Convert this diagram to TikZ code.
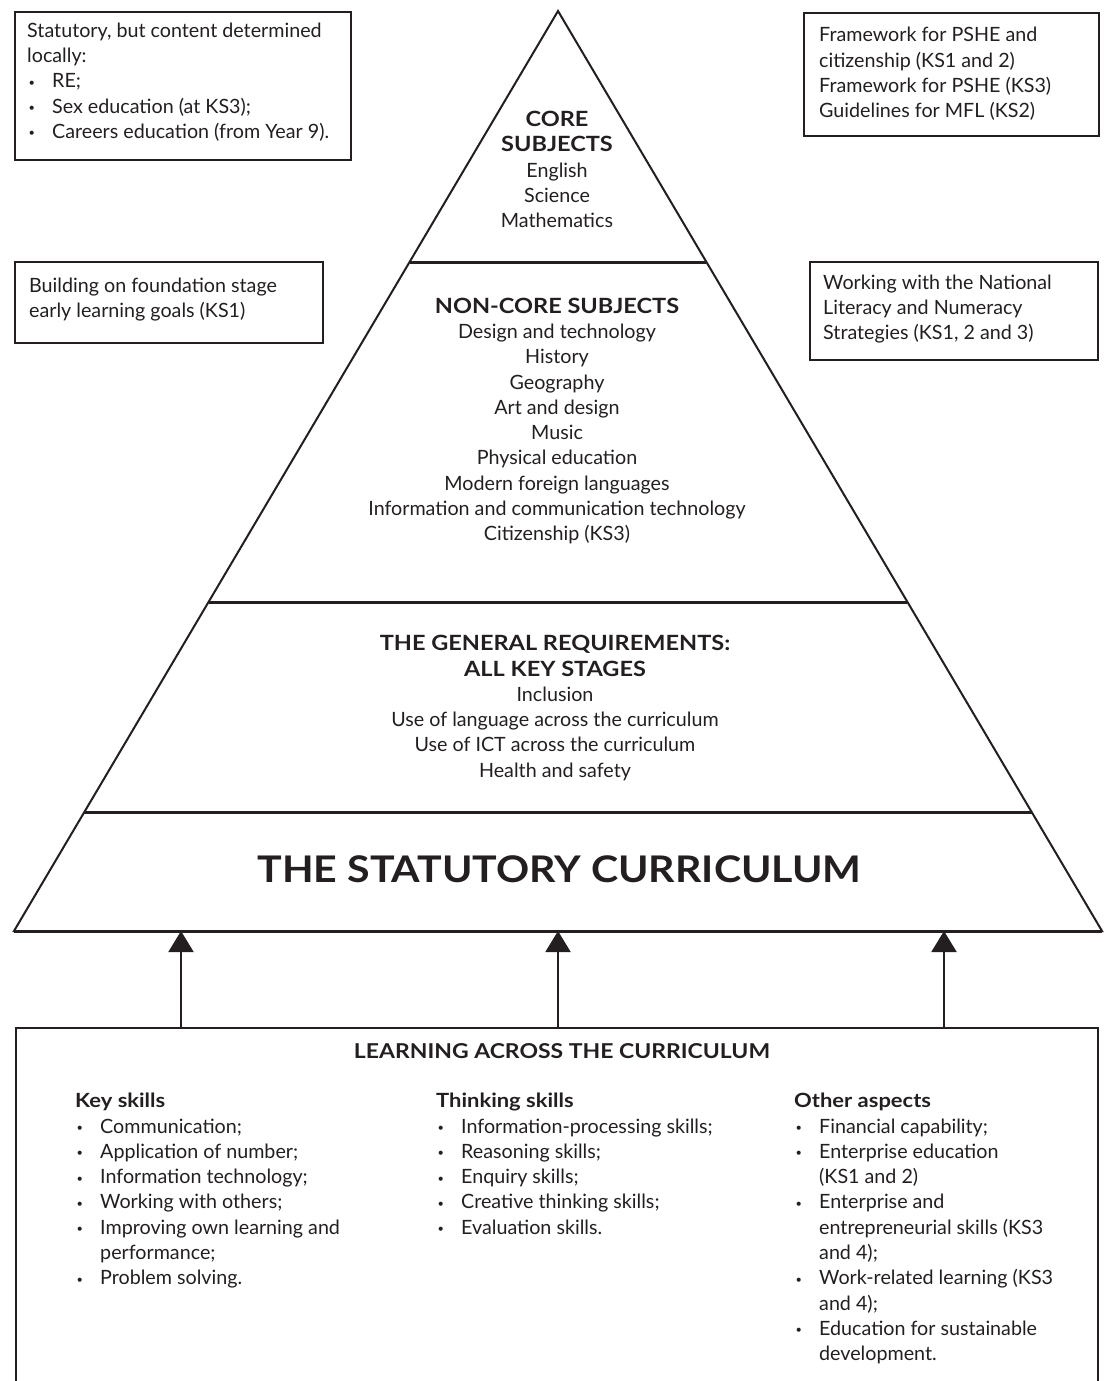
\documentclass[tikz,border=0pt]{standalone}
\usepackage{fontspec}
\setmainfont{Lato}
\newfontfamily\widefont[FakeStretch=1.12]{Lato}
\usetikzlibrary{arrows.meta,calc}
\definecolor{ink}{HTML}{231F20}
\newcommand{\bul}{\makebox[25pt][l]{\hspace{1.5pt}\raisebox{1.6pt}{\fontsize{11}{11}\selectfont\textbullet}}}
\newcommand{\ind}{\hspace*{25pt}}
\newcommand{\hf}[1]{{\widefont\bfseries\fontsize{21}{25.3}\selectfont #1}}
\newcommand{\cf}[1]{{\widefont\bfseries\fontsize{19.6}{25.3}\selectfont #1}}
\begin{document}
\begin{tikzpicture}[x=1pt,y=-1pt,
  txt/.style={inner sep=0pt, text=ink, font=\fontsize{19.7}{25.3}\selectfont},
  sidebox/.style={draw=ink, line width=2.4pt, inner sep=0pt, anchor=north west},
  pyr/.style={draw=ink, line width=2pt, line join=miter},
  divline/.style={draw=ink, line width=3pt},
  arr/.style={draw=ink, line width=2pt, -{Triangle[width=25pt,length=21pt]}}]
\useasboundingbox (0,0) rectangle (1105,1381);

% side boxes
\node[sidebox, minimum width=336, minimum height=148] (b1) at (14,11) {};
\node[txt, anchor=west, align=left] (t1) at (27,82) {Statutory, but content determined\\locally:\\\bul RE;\\\bul Sex education (at KS3);\\\bul Careers education (from Year 9).};

\node[sidebox, minimum width=308, minimum height=81] (b2) at (14,261) {};
\node[txt, anchor=west, align=left] (t2) at (29,299.5) {Building on foundation stage\\early learning goals (KS1)};

\node[sidebox, minimum width=295, minimum height=123] (b3) at (803,12) {};
\node[txt, anchor=west, align=left] (t3) at (819,74) {Framework for PSHE and\\citizenship (KS1 and 2)\\Framework for PSHE (KS3)\\Guidelines for MFL (KS2)};

\node[sidebox, minimum width=288, minimum height=98] (b4) at (809,261) {};
\node[txt, anchor=west, align=left] (t4) at (823,309) {Working with the National\\Literacy and Numeracy\\Strategies (KS1, 2 and 3)};

% pyramid
\coordinate (A) at (558,11);
\coordinate (BL) at (14,931);
\coordinate (BR) at (1102,931);
\draw[pyr] (A) -- (BR) -- (BL) -- cycle;
\draw[divline] ($(A)!0.27283!(BL)$) -- ($(A)!0.27283!(BR)$);
\draw[divline] ($(A)!0.64239!(BL)$) -- ($(A)!0.64239!(BR)$);
\draw[divline] ($(A)!0.87065!(BL)$) -- ($(A)!0.87065!(BR)$);
\draw[divline] (BL) -- (BR);

\node[txt, align=center, anchor=center] (core) at (557,169.5) {\hf{CORE}\\\hf{SUBJECTS}\\English\\Science\\Mathematics};
\node[txt, align=center, anchor=center] (noncore) at (557,421) {\hf{NON-CORE SUBJECTS}\\Design and technology\\History\\Geography\\Art and design\\Music\\Physical education\\Modern foreign languages\\Information and communication technology\\Citizenship (KS3)};
\node[txt, align=center, anchor=center] (gen) at (555,708) {\hf{THE GENERAL REQUIREMENTS:}\\\hf{ALL KEY STAGES}\\Inclusion\\Use of language across the curriculum\\Use of ICT across the curriculum\\Health and safety};
\node[inner sep=0pt, text=ink, font=\widefont\fontsize{36.7}{40}\selectfont\bfseries] (stat) at (559.5,869.5) {THE STATUTORY CURRICULUM};

% bottom box
\node[draw=ink, line width=2.4pt, inner sep=0pt, anchor=north west, minimum width=1082, minimum height=400] (lac) at (15,1027) {};
\node[inner sep=0pt, text=ink, font=\widefont\fontsize{20.5}{25.3}\selectfont\bfseries] (lact) at (562,1051.5) {LEARNING ACROSS THE CURRICULUM};

\node[txt, anchor=north west, align=left] (c1) at (75,1093) {\cf{Key skills}\\\bul Communication;\\\bul Application of number;\\\bul Information technology;\\\bul Working with others;\\\bul Improving own learning and\\\ind performance;\\\bul Problem solving.};
\node[txt, anchor=north west, align=left] (c2) at (436,1093) {\cf{Thinking skills}\\\bul Information-processing skills;\\\bul Reasoning skills;\\\bul Enquiry skills;\\\bul Creative thinking skills;\\\bul Evaluation skills.};
\node[txt, anchor=north west, align=left] (c3) at (794,1093) {\cf{Other aspects}\\\bul Financial capability;\\\bul Enterprise education\\\ind (KS1 and 2)\\\bul Enterprise and\\\ind entrepreneurial skills (KS3\\\ind and 4);\\\bul Work-related learning (KS3\\\ind and 4);\\\bul Education for sustainable\\\ind development.};

% arrows
\coordinate (p1) at (181,931);
\coordinate (p2) at (558,931);
\coordinate (p3) at (944,931);
\draw[arr] (lac.north -| p1) -- (p1);
\draw[arr] (lac.north -| p2) -- (p2);
\draw[arr] (lac.north -| p3) -- (p3);
\end{tikzpicture}
\end{document}
